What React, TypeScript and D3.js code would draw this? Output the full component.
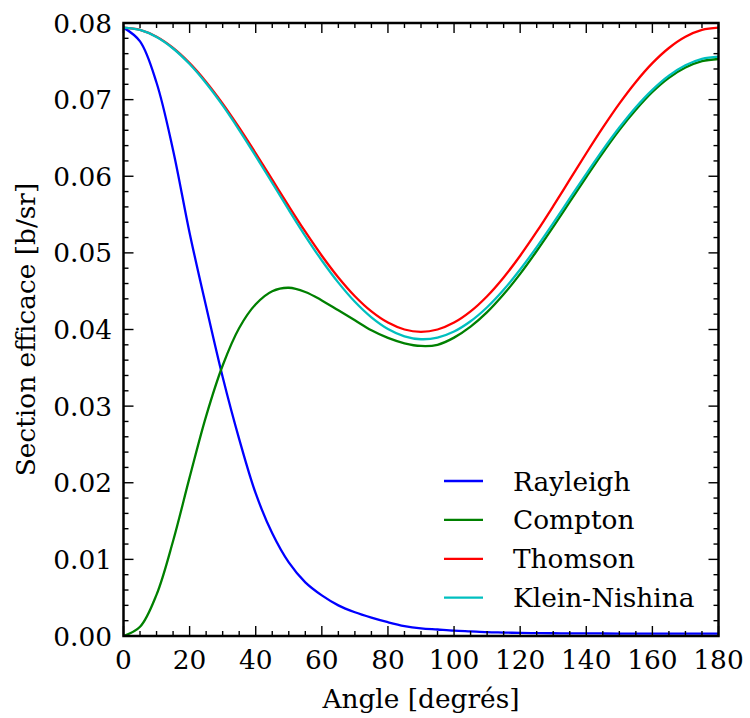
import React from "react";
import * as d3 from "d3";

const angles = [0,5,10,15,20,25,30,35,40,45,50,55,60,65,70,75,80,85,90,95,100,105,110,115,120,125,130,135,140,145,150,155,160,165,170,175,180];

const rayleigh = [0.0794,0.0776,0.0722,0.0634,0.0526,0.0430,0.0338,0.0257,0.0186,0.0134,0.0096,0.0070,0.0053,0.0040,0.0031,0.0024,0.0018,0.0013,0.0010,0.00085,0.0007,0.0006,0.0005,0.00045,0.0004,0.00038,0.00036,0.00035,0.00034,0.00033,0.00032,0.00031,0.00031,0.0003,0.0003,0.0003,0.0003];

const compton = [0,0.0012,0.0054,0.0124,0.0207,0.0287,0.0353,0.0402,0.0433,0.0450,0.04545,0.0449,0.0438,0.0425,0.0412,0.0399,0.0389,0.0382,0.03785,0.0380,0.03894,0.04037,0.04226,0.04459,0.04726,0.05024,0.05340,0.05665,0.05990,0.06306,0.06603,0.06867,0.07099,0.07284,0.07418,0.07502,0.0753];

const thomson = [0.0794,0.0791,0.0782,0.07674,0.07476,0.07231,0.06948,0.06634,0.0630,0.05955,0.0561,0.05276,0.04963,0.04679,0.04434,0.04236,0.0409,0.0400,0.0397,0.0400,0.0409,0.04236,0.04434,0.04679,0.04963,0.05276,0.0561,0.05955,0.0630,0.06634,0.06948,0.07231,0.07476,0.07674,0.0782,0.0791,0.0794];

const kleinNishina = [0.0794,0.07909,0.07817,0.07667,0.07464,0.07213,0.06924,0.06603,0.06263,0.05912,0.05561,0.0522,0.04901,0.04612,0.04362,0.04159,0.04007,0.03911,0.03873,0.03894,0.03973,0.04107,0.0429,0.04518,0.04783,0.05075,0.05388,0.05711,0.06032,0.06344,0.06636,0.06901,0.07128,0.07313,0.07448,0.07532,0.0756];

const seriesNames = ["Rayleigh", "Compton", "Thomson", "Klein-Nishina"];
const seriesValues = [rayleigh, compton, thomson, kleinNishina];
const seriesColors = ["#0000ff", "#008000", "#ff0000", "#00bfbf"];

const xTicks = [0,20,40,60,80,100,120,140,160,180];
const yTicks = [0,0.01,0.02,0.03,0.04,0.05,0.06,0.07,0.08];

const xLabel = "Angle [degrés]";
const yLabel = "Section efficace [b/sr]";

const W = 750, H = 718;
const L = 123.5, R = 718.5, T = 23, B = 636;
const FONT = "'DejaVu Serif', serif";
const FS = 26.4;

export default function App() {
  const x = d3.scaleLinear().domain([0, 180]).range([L, R]);
  const y = d3.scaleLinear().domain([0, 0.08]).range([B, T]);
  const line = d3.line<number>().curve(d3.curveCatmullRom.alpha(0.5));

  const xMinor = d3.range(0, 181, 5).filter((v) => v % 20 !== 0);
  const yMinor = d3.range(0, 81, 2).filter((v) => v % 10 !== 0).map((v) => v / 1000);

  const legendX = 444, legendTextX = 513, legendY0 = 481, legendDy = 38.9;

  return (
    <svg width={W} height={H} style={{ position: "absolute", left: 0, top: 0, background: "#fff" }} fontFamily={FONT}>
      <rect x={0} y={0} width={W} height={H} fill="#fff" />
      <defs>
        <clipPath id="plot">
          <rect x={L} y={T} width={R - L} height={B - T} />
        </clipPath>
      </defs>
      <g clipPath="url(#plot)">
        {seriesValues.map((vals, i) => (
          <path
            key={seriesNames[i]}
            d={line(angles.map((a, j) => [x(a), y(vals[j])]) as any) || ""}
            fill="none"
            stroke={seriesColors[i]}
            strokeWidth={2.3}
          />
        ))}
      </g>
      <g stroke="#000" strokeWidth={1.4}>
        {xTicks.map((t) => (
          <g key={"xt" + t}>
            <line x1={x(t)} x2={x(t)} y1={B} y2={B - 10} />
            <line x1={x(t)} x2={x(t)} y1={T} y2={T + 10} />
          </g>
        ))}
        {xMinor.map((t) => (
          <g key={"xm" + t}>
            <line x1={x(t)} x2={x(t)} y1={B} y2={B - 5} />
            <line x1={x(t)} x2={x(t)} y1={T} y2={T + 5} />
          </g>
        ))}
        {yTicks.map((t) => (
          <g key={"yt" + t}>
            <line x1={L} x2={L + 10} y1={y(t)} y2={y(t)} />
            <line x1={R} x2={R - 10} y1={y(t)} y2={y(t)} />
          </g>
        ))}
        {yMinor.map((t) => (
          <g key={"ym" + t}>
            <line x1={L} x2={L + 5} y1={y(t)} y2={y(t)} />
            <line x1={R} x2={R - 5} y1={y(t)} y2={y(t)} />
          </g>
        ))}
      </g>
      <rect x={L} y={T} width={R - L} height={B - T} fill="none" stroke="#000" strokeWidth={2.5} />
      <g fontSize={FS} fill="#000">
        {xTicks.map((t) => (
          <text key={"xl" + t} x={x(t)} y={B + 33} textAnchor="middle">{t}</text>
        ))}
        {yTicks.map((t) => (
          <text key={"yl" + t} x={L - 11.5} y={y(t) + 9.6} textAnchor="end">{t.toFixed(2)}</text>
        ))}
      </g>
      <text x={(L + R) / 2} y={708} textAnchor="middle" fontSize={FS}>{xLabel}</text>
      <text transform={`translate(35,${(T + B) / 2}) rotate(-90)`} textAnchor="middle" fontSize={FS}>{yLabel}</text>
      <g>
        {seriesNames.map((n, i) => (
          <g key={"lg" + n}>
            <line x1={legendX} x2={legendX + 39} y1={legendY0 + i * legendDy} y2={legendY0 + i * legendDy} stroke={seriesColors[i]} strokeWidth={2.3} />
            <text x={legendTextX} y={legendY0 + i * legendDy + 9.5} fontSize={FS}>{n}</text>
          </g>
        ))}
      </g>
    </svg>
  );
}
